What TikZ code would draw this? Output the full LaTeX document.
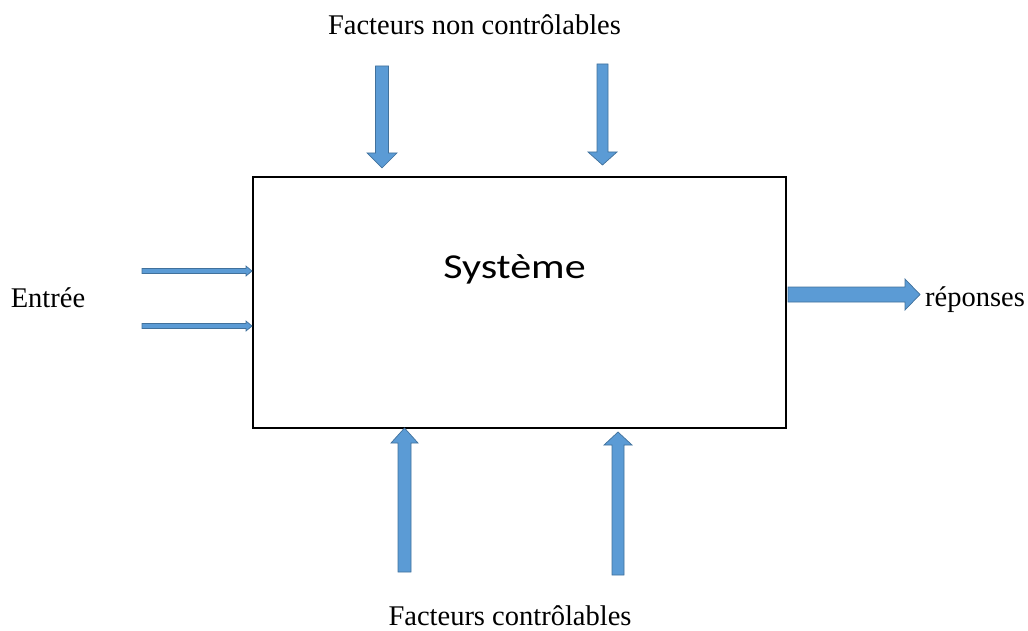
\documentclass[tikz,border=0pt]{standalone}
\usepackage{fontspec}
\setmainfont{Liberation Serif}
\newfontfamily\boxfont{Carlito}
\definecolor{arrowfill}{HTML}{5B9BD5}
\definecolor{arrowline}{HTML}{41719C}
\begin{document}
\begin{tikzpicture}[x=1pt,y=-1pt,
  blockarrow/.style={fill=arrowfill,draw=arrowline,line width=0.7pt,line join=miter},
  label/.style={font=\fontsize{28.5}{32}\selectfont,inner sep=0pt,anchor=base}]
\useasboundingbox (0,0) rectangle (1028,631);
% system box
\node[draw,line width=1.2pt,minimum width=533pt,minimum height=251pt,inner sep=0pt] (sys) at (519.5,302.5) {};
\node[font=\boxfont\fontsize{35}{40}\selectfont,inner sep=0pt,anchor=base,xscale=1.2,transform shape] (systxt) at (514.5,278) {Système};
% labels
\node[label] (top) at (474.5,35) {Facteurs non contrôlables};
\node[label] (bottom) at (510,625.5) {Facteurs contrôlables};
\node[label] (in) at (48,307) {Entrée};
\node[label] (out) at (975,306) {réponses};
% uncontrollable factors (downward block arrows)
\draw[blockarrow] (375.5,66) -- (388.5,66) -- (388.5,153) -- (397,153) -- (382,168) -- (367,153) -- (375.5,153) -- cycle;
\draw[blockarrow] (597,64) -- (608,64) -- (608,152) -- (617,152) -- (602.5,165) -- (588,152) -- (597,152) -- cycle;
% controllable factors (upward block arrows)
\draw[blockarrow] (398,572) -- (411,572) -- (411,443) -- (418,443) -- (404.5,428) -- (391,443) -- (398,443) -- cycle;
\draw[blockarrow] (612,575) -- (624,575) -- (624,445) -- (632,445) -- (618,432) -- (604,445) -- (612,445) -- cycle;
% inputs
\draw[blockarrow] (142,268.5) -- (246,268.5) -- (246,266) -- (252,271) -- (246,276) -- (246,273.5) -- (142,273.5) -- cycle;
\draw[blockarrow] (142,323.5) -- (246,323.5) -- (246,321) -- (252,326) -- (246,331) -- (246,328.5) -- (142,328.5) -- cycle;
% response
\draw[blockarrow] (788,287) -- (905,287) -- (905,279) -- (920,294.5) -- (905,310) -- (905,302) -- (788,302) -- cycle;
\end{tikzpicture}
\end{document}
